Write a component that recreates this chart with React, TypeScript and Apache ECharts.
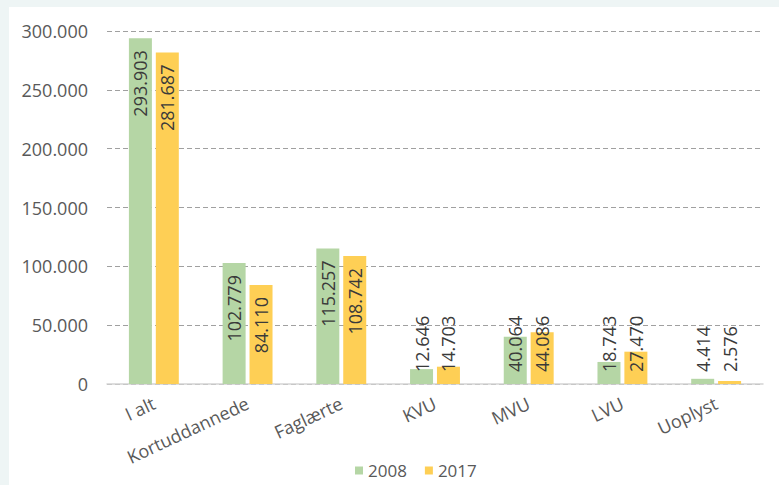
import React, { useEffect, useRef } from "react";
import * as echarts from "echarts";

const categories = ["I alt", "Kortuddannede", "Faglærte", "KVU", "MVU", "LVU", "Uoplyst"];
const values2008 = [293903, 102779, 115257, 12646, 40064, 18743, 4414];
const values2017 = [281687, 84110, 108742, 14703, 44086, 27470, 2576];
const seriesNames = ["2008", "2017"];
const yTicks = [0, 50000, 100000, 150000, 200000, 250000, 300000];

const GREEN = "#b5d6a5";
const YELLOW = "#fecf55";
const FONT = "'Open Sans', 'Noto Sans', sans-serif";

function fmt(v: number): string {
  return String(Math.round(v)).replace(/\B(?=(\d{3})+(?!\d))/g, ".");
}

function buildData(values: number[]) {
  return values.map((v) => {
    const fitsInside = v >= 60000;
    return {
      value: v,
      label: fitsInside
        ? { position: "insideTop", distance: 12, align: "right", verticalAlign: "middle" }
        : { position: "insideBottom", distance: 12, align: "left", verticalAlign: "middle" },
    };
  });
}

export default function App() {
  const ref = useRef<HTMLDivElement>(null);
  useEffect(() => {
    if (!ref.current) return;
    const chart = echarts.init(ref.current, null, { renderer: "svg" });
    const labelCommon = {
      show: true,
      rotate: 90,
      color: "#3a3a3a",
      fontSize: 18,
      fontFamily: FONT,
      formatter: (p: any) => fmt(p.value),
    };
    chart.setOption({
      animation: false,
      backgroundColor: "#eef5f5",
      graphic: [
        {
          type: "rect",
          left: 9,
          top: 7,
          shape: { width: 770, height: 478 },
          style: { fill: "#ffffff" },
          z: -10,
          silent: true,
        },
      ],
      grid: { left: 107, right: 16, top: 31, bottom: 101, containLabel: false },
      legend: {
        data: seriesNames,
        left: 350,
        top: 457,
        icon: "rect",
        itemWidth: 8,
        itemHeight: 8,
        itemGap: 18,
        textStyle: { color: "#595959", fontSize: 17, fontFamily: FONT },
      },
      xAxis: {
        type: "category",
        data: categories,
        axisLine: { show: true, lineStyle: { color: "#d4d4d4", width: 1.5 } },
        axisTick: { show: false },
        axisLabel: {
          rotate: 25,
          margin: 18,
          color: "#595959",
          fontSize: 18,
          fontFamily: FONT,
          interval: 0,
        },
      },
      yAxis: {
        type: "value",
        min: yTicks[0],
        max: yTicks[yTicks.length - 1],
        interval: yTicks[1] - yTicks[0],
        axisLine: { show: false },
        axisTick: { show: false },
        axisLabel: {
          margin: 19,
          color: "#595959",
          fontSize: 18,
          fontFamily: FONT,
          formatter: (v: number) => fmt(v),
        },
        splitLine: {
          show: true,
          lineStyle: { color: "#a0a0a0", type: [5, 3], width: 1 },
        },
      },
      series: [
        {
          name: seriesNames[0],
          type: "bar",
          data: buildData(values2008),
          barWidth: 23,
          barGap: "17%",
          itemStyle: { color: GREEN },
          label: labelCommon,
        },
        {
          name: seriesNames[1],
          type: "bar",
          data: buildData(values2017),
          barWidth: 23,
          barGap: "17%",
          itemStyle: { color: YELLOW },
          label: labelCommon,
        },
      ],
    });
    return () => chart.dispose();
  }, []);
  return (
    <div style={{ position: "fixed", left: 0, top: 0, width: 779, height: 485 }}>
      <div ref={ref} style={{ width: 779, height: 485 }} />
    </div>
  );
}
